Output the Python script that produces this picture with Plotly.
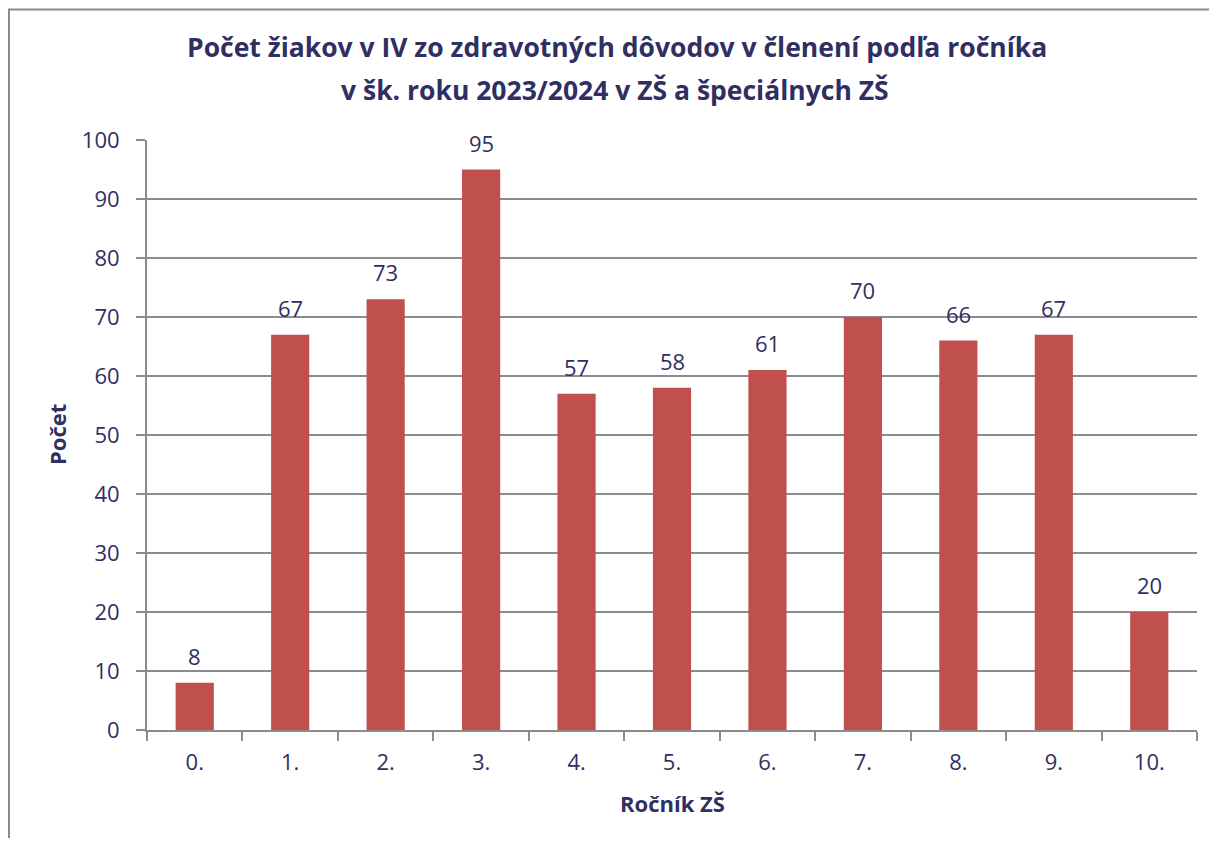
import plotly.graph_objects as go

categories = ["0.", "1.", "2.", "3.", "4.", "5.", "6.", "7.", "8.", "9.", "10."]
values = [8, 67, 73, 95, 57, 58, 61, 70, 66, 67, 20]

title_lines = ["Počet žiakov v IV zo zdravotných dôvodov v členení podľa ročníka",
               "v šk. roku 2023/2024 v ZŠ a špeciálnych ZŠ"]
x_title = "Ročník ZŠ"
y_title = "Počet"

txt = "#2F2F62"
grid = "#8C8C8C"
bar_color = "#C0504D"
font_family = "Open Sans, Lato, sans-serif"

# page has an 8px body margin; figure sized to fit inside the window
W, H = 1201, 830
ml, mr, mt, mb = 139, 12, 132, 108
pw, ph = W - ml - mr, H - mt - mb


def px_x(fx):
    return (fx - ml) / pw


def px_y(fy):
    return (H - mb - fy) / ph


fig = go.Figure(go.Bar(
    x=categories, y=values,
    marker=dict(color=bar_color, line=dict(width=0)),
    hoverinfo="x+y",
))

annotations = []
for c, v in zip(categories, values):
    annotations.append(dict(
        x=c, y=v, xref="x", yref="y", text=str(v), showarrow=False,
        yanchor="middle", xanchor="center", yshift=27,
        font=dict(size=22, color=txt, family=font_family),
    ))

annotations.append(dict(
    x=px_x(609), y=px_y(39), xref="paper", yref="paper",
    text="<b>" + title_lines[0] + "</b>", showarrow=False,
    xanchor="center", yanchor="middle",
    font=dict(size=26.5, color=txt, family=font_family),
))
annotations.append(dict(
    x=px_x(607), y=px_y(82), xref="paper", yref="paper",
    text="<b>" + title_lines[1] + "</b>", showarrow=False,
    xanchor="center", yanchor="middle",
    font=dict(size=26.5, color=txt, family=font_family),
))
annotations.append(dict(
    x=0.5, y=px_y(795), xref="paper", yref="paper",
    text="<b>" + x_title + "</b>", showarrow=False,
    xanchor="center", yanchor="middle",
    font=dict(size=22, color=txt, family=font_family),
))
annotations.append(dict(
    x=px_x(49), y=0.5, xref="paper", yref="paper",
    text="<b>" + y_title + "</b>", showarrow=False, textangle=-90,
    xanchor="center", yanchor="middle",
    font=dict(size=22, color=txt, family=font_family),
))

fig.update_layout(
    width=W, height=H,
    margin=dict(l=ml, r=mr, t=mt, b=mb),
    paper_bgcolor="white", plot_bgcolor="white",
    bargap=0.6,
    showlegend=False,
    font=dict(family=font_family, color=txt),
    annotations=annotations,
    xaxis=dict(
        type="category", tickson="boundaries",
        ticks="outside", ticklen=9, tickwidth=2, tickcolor=grid,
        showline=True, linecolor=grid, linewidth=2,
        tickfont=dict(size=22, color=txt),
        ticklabelstandoff=12,
        showgrid=False,
    ),
    yaxis=dict(
        range=[0, 100], dtick=10,
        ticks="outside", ticklen=9, tickwidth=2, tickcolor=grid,
        showline=True, linecolor=grid, linewidth=2,
        showgrid=True, gridcolor=grid, gridwidth=2,
        tickfont=dict(size=22, color=txt),
        ticklabelstandoff=12,
        zeroline=False,
    ),
    shapes=[dict(
        type="rect", xref="paper", yref="paper",
        x0=px_x(1), x1=px_x(W + 20),
        y0=px_y(H + 20), y1=px_y(1.5),
        line=dict(color="#8A8A8A", width=2), fillcolor="rgba(0,0,0,0)", layer="below",
    )],
)

fig.write_html("out.html")
